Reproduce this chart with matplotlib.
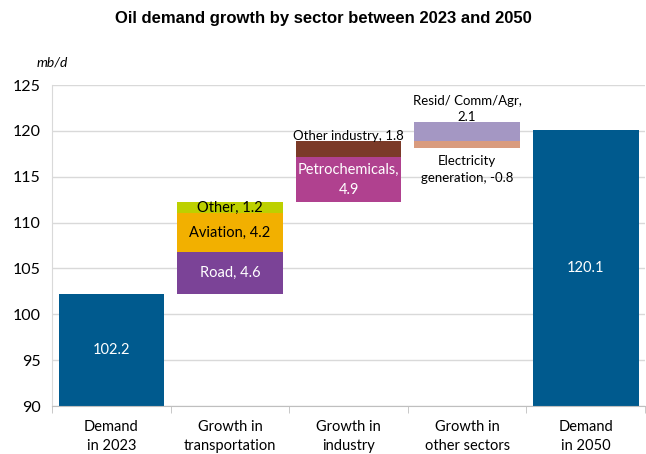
import numpy as np
import matplotlib
matplotlib.use("Agg")
import matplotlib.pyplot as plt

# -------------------- Data --------------------
categories = ["Demand\nin 2023", "Growth in\ntransportation", "Growth in\nindustry",
              "Growth in\nother sectors", "Demand\nin 2050"]
demand_2023 = 102.2
demand_2050 = 120.1

transport_names = ["Road", "Aviation", "Other"]
transport_vals = [4.6, 4.2, 1.2]
transport_colors = ["#7B4397", "#F2B000", "#BDD000"]

industry_names = ["Petrochemicals", "Other industry"]
industry_vals = [4.9, 1.8]
industry_colors = ["#B0418F", "#7B3A28"]

other_names = ["Resid/ Comm/Agr", "Electricity generation"]
other_vals = [2.1, -0.8]
other_colors = ["#A497C3", "#D99B7E"]

blue = "#005A8E"

# -------------------- Figure --------------------
plt.rcParams['font.family'] = ['Lato', 'DejaVu Sans']
fig = plt.figure(figsize=(6.46, 4.54), dpi=100)
ax = fig.add_axes([0.0805, 0.1057, 0.918, 0.707])

x = np.arange(len(categories))
w = 0.89

# demand bars
ax.bar(x[0], demand_2023 - 90, bottom=90, width=w, color=blue)
ax.bar(x[4], demand_2050 - 90, bottom=90, width=w, color=blue)
ax.text(x[0], (90 + demand_2023) / 2, f"{demand_2023}", ha='center', va='center',
        color='white', fontsize=10.5)
ax.text(x[4], (90 + demand_2050) / 2, f"{demand_2050}", ha='center', va='center',
        color='white', fontsize=10.5)

# transportation stack
base = demand_2023
text_cols = ["white", "black", "black"]
for name, v, c, tc in zip(transport_names, transport_vals, transport_colors, text_cols):
    ax.bar(x[1], v, bottom=base, width=w, color=c)
    ax.text(x[1], base + v / 2, f"{name}, {v}", ha='center', va='center',
            color=tc, fontsize=10.5)
    base += v

# industry stack
ax.bar(x[2], industry_vals[0], bottom=base, width=w, color=industry_colors[0])
ax.text(x[2], base + industry_vals[0] / 2, f"{industry_names[0]},\n{industry_vals[0]}",
        ha='center', va='center', color='white', fontsize=10.5, linespacing=1.5)
base += industry_vals[0]
ax.bar(x[2], industry_vals[1], bottom=base, width=w, color=industry_colors[1])
base += industry_vals[1]
ax.annotate(f"{industry_names[1]}, {industry_vals[1]}", (x[2], base), xytext=(0, -1),
            textcoords='offset points', ha='center', va='bottom', fontsize=9.5)

# other sectors: negative drawn below, positive above
neg = other_vals[1]
ax.bar(x[3], -neg, bottom=base + neg, width=w, color=other_colors[1])
ax.annotate(f"Electricity\ngeneration, {neg}", (x[3], base + neg), xytext=(0, -5),
            textcoords='offset points', ha='center', va='top', fontsize=9.5,
            linespacing=1.5)
ax.bar(x[3], other_vals[0], bottom=base, width=w, color=other_colors[0])
ax.annotate(f"{other_names[0]},\n{other_vals[0]}", (x[3], base + other_vals[0]),
            xytext=(0, -1), textcoords='offset points', ha='center', va='bottom',
            fontsize=9.5, linespacing=1.4)

# -------------------- Axes styling --------------------
ax.set_xlim(-0.5, 4.5)
ax.set_ylim(90, 125)
ax.set_yticks(np.arange(90, 126, 5))
ax.yaxis.grid(True, color='#D9D9D9', linewidth=1)
ax.set_axisbelow(True)
ax.tick_params(axis='y', length=0, labelsize=11.5, pad=8)
ax.set_xticks(x)
ax.set_xticklabels(categories, fontsize=10.5, linespacing=1.5)
ax.set_xticks(np.arange(-0.5, 4.6, 1), minor=True)
ax.tick_params(axis='x', which='major', length=0, pad=10)
ax.tick_params(axis='x', which='minor', length=5, color='#BFBFBF')
for s in ['top', 'right']:
    ax.spines[s].set_visible(False)
ax.spines['left'].set_color('#D9D9D9')
ax.spines['bottom'].set_color('#BFBFBF')

fig.text(0.5, 0.96, "Oil demand growth by sector between 2023 and 2050", ha='center',
         va='center', fontsize=12, fontweight='bold', family='Liberation Sans')
fig.text(0.057, 0.862, "mb/d", ha='left', va='center', fontsize=10, style='italic')

fig.savefig("out.png", dpi=100)
